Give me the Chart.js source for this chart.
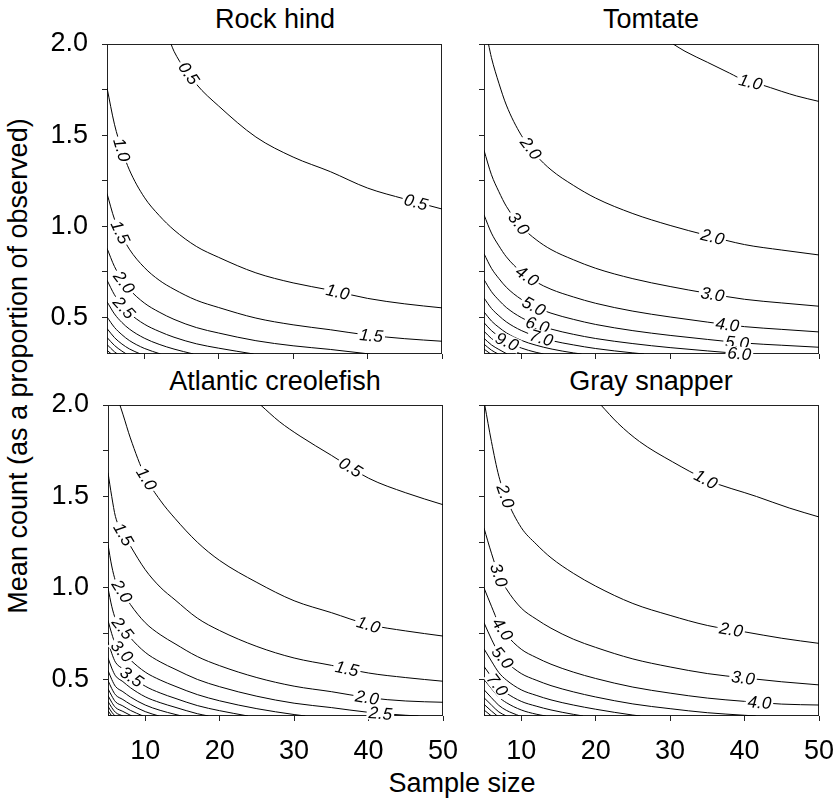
<!DOCTYPE html>
<html>
<head>
<meta charset="utf-8">
<script src="https://cdn.jsdelivr.net/npm/chart.js@4.4.0/dist/chart.umd.min.js"></script>
<style>
  body { margin: 0; background: #fff; width: 838px; height: 799px; overflow: hidden; position: relative;
         font-family: 'Liberation Sans', Arial, sans-serif; color: #000; }
  canvas { position: absolute; }
  .ttl { position: absolute; font-size: 27px; line-height: 27px; white-space: nowrap; transform: translateX(-50%); }
  #ylab { position: absolute; left: 18px; top: 366px; font-size: 27px; line-height: 27px; white-space: nowrap;
          transform: translate(-50%, -50%) rotate(-90deg); }
</style>
</head>
<body>
<div class="ttl" style="left:275px;top:6px">Rock hind</div>
<div class="ttl" style="left:651px;top:6px">Tomtate</div>
<div class="ttl" style="left:275px;top:368px">Atlantic creolefish</div>
<div class="ttl" style="left:651px;top:368px">Gray snapper</div>
<div class="ttl" style="left:462px;top:770px">Sample size</div>
<div id="ylab">Mean count (as a proportion of observed)</div>

<canvas id="rockHind" width="454" height="414" style="left:7px;top:0px"></canvas>
<canvas id="tomtate" width="454" height="414" style="left:384px;top:0px"></canvas>
<canvas id="creolefish" width="454" height="415" style="left:8px;top:361px"></canvas>
<canvas id="graySnapper" width="454" height="415" style="left:384px;top:361px"></canvas>

<script>
// axis ticks
const xTicks = [10, 20, 30, 40, 50];
const yMajor = [0.5, 1.0, 1.5, 2.0];
const yMinor = [0.75, 1.25, 1.75];

// Rock hind contours: [sample size, mean count]
const rockHindLevels = ['0.5', '1.0', '1.5', '2.0', '2.5', '3.0', '3.5', '4.0', '4.5', '5.0', '5.5'];
const rockHindLines = [
  [[13.6,2.0],[14,1.96],[17,1.78],[20,1.66],[25,1.49],[30,1.38],[35,1.30],[40,1.21],[45,1.15],[50,1.095]],
  [[5,1.76],[6,1.56],[7,1.42],[8,1.31],[10,1.16],[12,1.06],[14,0.98],[17,0.89],[20,0.83],[25,0.745],[30,0.69],[35,0.65],[40,0.605],[45,0.575],[50,0.553]],
  [[5,1.18],[6,1.04],[7,0.95],[8,0.875],[10,0.775],[12,0.705],[14,0.655],[17,0.595],[20,0.555],[25,0.497],[30,0.46],[35,0.433],[40,0.404],[45,0.384],[50,0.37]],
  [[5,0.88],[6,0.78],[7,0.71],[8,0.655],[10,0.58],[12,0.53],[14,0.49],[17,0.445],[20,0.415],[25,0.373],[30,0.345],[35,0.325],[40.3,0.3]],
  [[5,0.705],[6,0.625],[7,0.568],[8,0.524],[10,0.464],[12,0.424],[14,0.392],[17,0.356],[20,0.332],[24.7,0.3]],
  [[5,0.587],[6,0.52],[7,0.473],[8,0.437],[10,0.387],[12,0.353],[14,0.327],[16.6,0.3]],
  [[5,0.503],[6,0.446],[7,0.406],[8,0.374],[10,0.331],[12.2,0.3]],
  [[5,0.44],[6,0.39],[7,0.355],[8,0.328],[9.5,0.3]],
  [[5,0.391],[6,0.347],[7,0.316],[7.6,0.3]],
  [[5,0.352],[6,0.312],[6.4,0.3]],
  [[5,0.32],[5.6,0.3]]
];
const rockHindLabelX = [[16, 46.5], [7, 36], [6.8, 40.5], [7.3], [7.3], [], [], [], [], [], []];

// Tomtate contours
const tomtateLevels = ['1.0', '2.0', '3.0', '4.0', '5.0', '6.0', '7.0', '8.0', '9.0', '10.0', '11.0', '12.0', '13.0'];
const tomtateLines = [
  [[30.4,2.0],[32,1.96],[35,1.90],[38,1.84],[40,1.80],[42,1.78],[45,1.74],[47,1.715],[50,1.685]],
  [[5.6,2.0],[6,1.925],[7,1.785],[8,1.665],[10,1.5],[12,1.39],[14,1.31],[17,1.225],[20,1.155],[25,1.07],[30,1.005],[35,0.95],[40,0.90],[45,0.87],[50,0.843]],
  [[5,1.417],[6,1.283],[7,1.19],[8,1.11],[10,1.0],[12,0.927],[14,0.873],[17,0.817],[20,0.77],[25,0.713],[30,0.67],[35,0.633],[40,0.60],[45,0.58],[50,0.562]],
  [[5,1.063],[6,0.963],[7,0.893],[8,0.833],[10,0.75],[12,0.695],[14,0.655],[17,0.613],[20,0.578],[25,0.535],[30,0.503],[35,0.475],[40,0.45],[45,0.435],[50,0.421]],
  [[5,0.85],[6,0.77],[7,0.714],[8,0.666],[10,0.6],[12,0.556],[14,0.524],[17,0.49],[20,0.462],[25,0.428],[30,0.402],[35,0.38],[40,0.36],[45,0.348],[50,0.337]],
  [[5,0.708],[6,0.642],[7,0.595],[8,0.555],[10,0.5],[12,0.463],[14,0.437],[17,0.408],[20,0.385],[25,0.357],[30,0.335],[35,0.317],[40,0.3]],
  [[5,0.607],[6,0.55],[7,0.51],[8,0.476],[10,0.429],[12,0.397],[14,0.374],[17,0.35],[20,0.33],[25,0.306],[26.5,0.3]],
  [[5,0.531],[6,0.481],[7,0.446],[8,0.416],[10,0.375],[12,0.348],[14,0.328],[17,0.306],[18.1,0.3]],
  [[5,0.472],[6,0.428],[7,0.397],[8,0.37],[10,0.333],[12,0.309],[13,0.3]],
  [[5,0.425],[6,0.385],[7,0.357],[8,0.333],[10,0.3]],
  [[5,0.386],[6,0.35],[7,0.325],[8.1,0.3]],
  [[5,0.354],[6,0.321],[6.9,0.3]],
  [[5,0.327],[5.9,0.3]]
];
const tomtateLabelX = [[40.8], [11.3, 35.7], [9.7, 35.7], [10.8, 37.7], [11.7, 39], [12.2, 39.3], [12.7], [], [8.1], [], [], [], []];

// Atlantic creolefish contours
const creolefishLevels = ['0.5', '1.0', '1.5', '2.0', '2.5', '3.0', '3.5', '4.0', '4.5', '5.0', '5.5', '6.0', '6.5', '7.0', '7.5', '8.0'];
const creolefishLines = [
  [[25.5,2.0],[28,1.91],[30.8,1.83],[35,1.725],[40,1.60],[45,1.52],[50,1.455]],
  [[6.6,2.0],[7,1.95],[8,1.82],[10,1.61],[12,1.48],[14,1.38],[17,1.25],[20,1.15],[25,1.03],[30,0.93],[35,0.865],[40,0.80],[45,0.765],[50,0.737]],
  [[5,1.63],[5.5,1.5],[6,1.39],[7,1.30],[8,1.23],[10,1.10],[12,1.005],[14,0.935],[17,0.835],[20,0.767],[25,0.68],[30,0.617],[35,0.577],[40,0.535],[45,0.51],[50,0.49]],
  [[5,1.237],[5.5,1.12],[6,1.04],[7,0.975],[8,0.91],[10,0.81],[12,0.745],[14,0.695],[17,0.625],[20,0.575],[25,0.51],[30,0.463],[35,0.433],[40,0.40],[45,0.382],[50,0.375]],
  [[5,1.0],[5.5,0.9],[6,0.832],[7,0.78],[8,0.728],[10,0.648],[12,0.596],[14,0.556],[17,0.5],[20,0.46],[25,0.408],[30,0.37],[35,0.346],[40,0.32],[45,0.304],[46.7,0.3]],
  [[5,0.823],[5.5,0.75],[6,0.693],[7,0.65],[8,0.607],[10,0.54],[12,0.497],[14,0.463],[17,0.417],[20,0.383],[25,0.34],[30,0.308],[31.5,0.3]],
  [[5,0.706],[5.5,0.643],[6,0.594],[7,0.557],[8,0.52],[10,0.463],[12,0.426],[14,0.397],[17,0.357],[20,0.329],[23.8,0.3]],
  [[5,0.618],[5.5,0.562],[6,0.52],[7,0.488],[8,0.455],[10,0.405],[12,0.373],[14,0.348],[17,0.3125],[18.5,0.3]],
  [[5,0.549],[5.5,0.5],[6,0.462],[7,0.433],[8,0.404],[10,0.36],[12,0.331],[14,0.309],[14.9,0.3]],
  [[5,0.494],[5.5,0.45],[6,0.416],[7,0.39],[8,0.364],[10,0.324],[11.85,0.3]],
  [[5,0.449],[5.5,0.41],[6,0.378],[7,0.355],[8,0.331],[9.7,0.3]],
  [[5,0.412],[5.5,0.375],[6,0.347],[7,0.325],[8.2,0.3]],
  [[5,0.38],[5.5,0.346],[6,0.32],[7,0.3]],
  [[5,0.353],[5.5,0.321],[5.95,0.3]],
  [[5,0.329],[5.5,0.3]],
  [[5,0.309],[5.2,0.3]]
];
const creolefishLabelX = [[37.6], [10.2, 40], [7.1, 37.1], [6.9, 39.8], [7.0, 41.6], [6.9], [8.2], [], [], [], [], [], [], [], [], []];

// Gray snapper contours
const graySnapperLevels = ['1.0', '2.0', '3.0', '4.0', '5.0', '6.0', '7.0', '8.0', '9.0', '10.0', '11.0', '12.0', '13.0'];
const graySnapperLines = [
  [[20.7,2.0],[23,1.9],[25.9,1.80],[30.3,1.69],[35,1.59],[41.6,1.50],[46,1.437],[50,1.388]],
  [[5.1,2.0],[6,1.80],[7,1.61],[8,1.49],[10,1.33],[12,1.24],[14,1.165],[17,1.08],[20,1.01],[25,0.915],[30,0.85],[35,0.795],[40,0.76],[45,0.725],[50,0.697]],
  [[5,1.327],[6,1.19],[7,1.07],[8,0.995],[10,0.89],[12,0.83],[14,0.78],[17,0.72],[20,0.675],[25,0.612],[30,0.568],[35,0.532],[40,0.508],[45,0.487],[50,0.47]],
  [[5,1.0],[6,0.9],[7,0.805],[8,0.745],[10,0.665],[12,0.62],[14,0.583],[17,0.54],[20,0.505],[25,0.458],[30,0.425],[35,0.398],[40,0.38],[45,0.365],[50,0.36]],
  [[5,0.81],[6,0.72],[7,0.644],[8,0.596],[10,0.532],[12,0.496],[14,0.466],[17,0.432],[20,0.404],[25,0.366],[30,0.34],[35,0.318],[40,0.304],[41.5,0.3]],
  [[5,0.667],[6,0.6],[7,0.537],[8,0.497],[10,0.443],[12,0.413],[14,0.388],[17,0.36],[20,0.337],[25,0.305],[26,0.3]],
  [[5,0.571],[6,0.514],[7,0.46],[8,0.426],[10,0.38],[12,0.354],[14,0.333],[17,0.309],[18.3,0.3]],
  [[5,0.5],[6,0.45],[7,0.403],[8,0.373],[10,0.333],[12,0.31],[13.3,0.3]],
  [[5,0.444],[6,0.4],[7,0.358],[8,0.331],[9.8,0.3]],
  [[5,0.4],[6,0.36],[7,0.322],[8,0.3]],
  [[5,0.364],[6,0.327],[6.8,0.3]],
  [[5,0.333],[6,0.3]],
  [[5,0.308],[5.2,0.3]]
];
const graySnapperLabelX = [[34.8], [7.9, 38.2], [7.0, 39.8], [7.5, 42], [7.5], [], [6.8], [], [], [], [], [], []];

const FONT = "'Liberation Sans', Arial, sans-serif";
Chart.defaults.font.family = FONT;
Chart.defaults.font.size = 27;
Chart.defaults.color = '#000';

// frame round the plot area
const frame = {
  id: 'frame',
  beforeDatasetsDraw(chart) {
    const a = chart.chartArea, ctx = chart.ctx;
    ctx.save();
    ctx.strokeStyle = '#222';
    ctx.lineWidth = 1;
    ctx.strokeRect(Math.round(a.left) + 0.5, Math.round(a.top) + 0.5,
                   Math.round(a.right - a.left) - 1, Math.round(a.bottom - a.top) - 1);
    ctx.restore();
  }
};

// inline contour labels, placed at given sample sizes
const contourLabels = {
  id: 'contourLabels',
  afterDatasetsDraw(chart) {
    const ctx = chart.ctx, xs = chart.scales.x;
    ctx.save();
    ctx.font = 'italic 17px ' + FONT;
    ctx.textAlign = 'center';
    ctx.textBaseline = 'middle';
    chart.data.datasets.forEach((ds, i) => {
      const pts = chart.getDatasetMeta(i).data;
      (ds.labelAt || []).forEach(lx => {
        const px = xs.getPixelForValue(lx);
        let k = 0;
        while (k < pts.length - 2 && pts[k + 1].x < px) k++;
        const a = pts[k], b = pts[k + 1];
        const t = (px - a.x) / (b.x - a.x);
        const py = a.y + t * (b.y - a.y);
        const ang = Math.atan2(b.y - a.y, b.x - a.x);
        const w = ctx.measureText(ds.label).width;
        ctx.save();
        ctx.translate(px, py);
        ctx.rotate(ang);
        ctx.fillStyle = '#fff';
        ctx.fillRect(-w / 2 - 2, -7, w + 4, 14);
        ctx.fillStyle = '#000';
        ctx.fillText(ds.label, 0, 1);
        ctx.restore();
      });
    });
    ctx.restore();
  }
};

function makePanel(id, levels, lines, labelX, showX, showY) {
  return new Chart(document.getElementById(id), {
    type: 'scatter',
    data: {
      datasets: levels.map((lv, i) => ({
        label: lv,
        data: lines[i].map(p => ({ x: p[0], y: p[1] })),
        labelAt: labelX[i],
        showLine: true,
        borderColor: '#000',
        borderWidth: 1,
        pointRadius: 0,
        pointHoverRadius: 0,
        cubicInterpolationMode: 'monotone'
      }))
    },
    options: {
      responsive: false,
      animation: false,
      events: [],
      layout: { padding: { top: 44, right: 19, left: 0, bottom: 0 } },
      plugins: { legend: { display: false }, tooltip: { enabled: false } },
      scales: {
        x: {
          type: 'linear', min: 5, max: 50,
          afterBuildTicks: s => { s.ticks = xTicks.map(v => ({ value: v })); },
          afterFit: s => { s.height = 60; s.paddingLeft = 0; s.paddingRight = 0; },
          border: { display: false },
          grid: { drawOnChartArea: false, drawTicks: true, tickLength: 5, color: '#222' },
          ticks: { autoSkip: false, maxRotation: 0, padding: 14, callback: v => showX ? String(v) : '' }
        },
        y: {
          type: 'linear', min: 0.3, max: 2.0,
          afterBuildTicks: s => { s.ticks = yMajor.concat(yMinor).sort((a, b) => a - b).map(v => ({ value: v })); },
          afterFit: s => { s.width = 100; s.paddingTop = 0; s.paddingBottom = 0; },
          border: { display: false },
          grid: { drawOnChartArea: false, drawTicks: true, tickLength: 5, color: '#222' },
          ticks: { autoSkip: false, padding: 14, callback: v => (showY && yMajor.includes(v)) ? v.toFixed(1) : '' }
        }
      }
    },
    plugins: [frame, contourLabels]
  });
}

makePanel('rockHind', rockHindLevels, rockHindLines, rockHindLabelX, false, true);
makePanel('tomtate', tomtateLevels, tomtateLines, tomtateLabelX, false, false);
makePanel('creolefish', creolefishLevels, creolefishLines, creolefishLabelX, true, true);
makePanel('graySnapper', graySnapperLevels, graySnapperLines, graySnapperLabelX, true, false);
</script>
</body>
</html>
